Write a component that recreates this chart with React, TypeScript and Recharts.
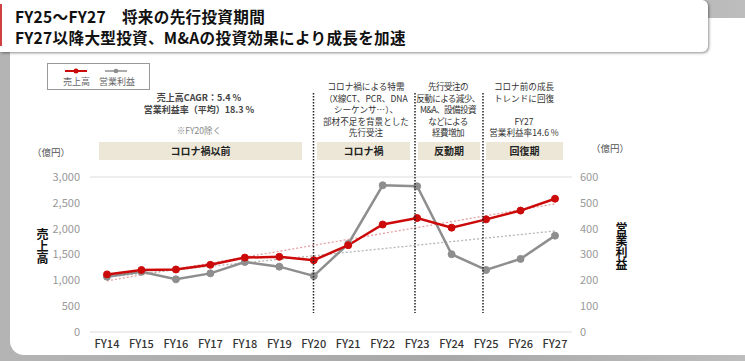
import React from 'react';
import { LineChart, Line, XAxis, YAxis, CartesianGrid, ReferenceLine } from 'recharts';

const categories = ['FY14', 'FY15', 'FY16', 'FY17', 'FY18', 'FY19', 'FY20', 'FY21', 'FY22', 'FY23', 'FY24', 'FY25', 'FY26', 'FY27'];
const sales = [1115, 1200, 1210, 1300, 1440, 1455, 1390, 1680, 2080, 2205, 2020, 2180, 2350, 2580];
const operatingProfit = [214, 233, 204, 227, 271, 253, 217, 341, 568, 564, 301, 240, 283, 373];
const salesTrend = [990, 2480];
const profitTrend = [213, 391];
const leftTicks = [0, 500, 1000, 1500, 2000, 2500, 3000];
const rightTicks = [0, 100, 200, 300, 400, 500, 600];

const data = categories.map((fy, i) => ({ fy, sales: sales[i], op: operatingProfit[i] }));

const FONT = '"Noto Sans CJK JP", "Noto Sans", sans-serif';

const RED = '#cc0a0a';
const GRAY = '#8e8e8e';

const abs = (x: number, y: number, extra: React.CSSProperties = {}): React.CSSProperties => ({
  position: 'absolute', left: x, top: y, ...extra,
});

const centerText = (x: number, y: number, lines: string[], extra: React.CSSProperties = {}) => (
  <div style={abs(x, y, { transform: 'translateX(-50%)', textAlign: 'center', whiteSpace: 'nowrap', fontSize: 8.6, lineHeight: '11.6px', color: '#333', ...extra })}>
    {lines.map((l, i) => <div key={i}>{l === '' ? '\u00a0' : l}</div>)}
  </div>
);

export default function App() {
  return (
    <div style={{ position: 'absolute', left: 0, top: 0, width: 745, height: 361, overflow: 'hidden', fontFamily: FONT, background: 'linear-gradient(90deg, #b4b4b4, #a8a8a8 60%, #bdbdbd)' }}>
      {/* main white panel */}
      <div style={abs(10, 18, { width: 780, height: 337, background: '#fff', borderRadius: 14 })} />
      {/* title box */}
      <div style={abs(0, 0, { width: 708, height: 52, background: '#fff', borderRadius: '0 6px 6px 0', boxShadow: '1px 1px 3px rgba(0,0,0,0.45)' })} />
      <div style={abs(0, 4, { width: 2, height: 42, background: '#d04040' })} />
      <div style={abs(15, 6, { fontSize: 15.6, fontWeight: 700, color: '#111', lineHeight: '21px', letterSpacing: 0.3, whiteSpace: 'nowrap' })}>
        <div>FY25～FY27　将来の先行投資期間</div>
        <div>FY27以降大型投資、M&amp;Aの投資効果により成長を加速</div>
      </div>

      {/* chart */}
      <div style={abs(0, 0)}>
        <LineChart width={745} height={361} data={data} margin={{ top: 177, right: 123, bottom: 0, left: 40 }}>
          <CartesianGrid vertical={false} stroke="#e8e8e8" strokeWidth={1.5} />
          <XAxis dataKey="fy" interval={0} axisLine={false} tickLine={false} height={29} padding={{ left: 17, right: 17 }}
            tick={{ fill: '#333', fontSize: 11, fontWeight: 500, fontFamily: FONT }} />
          <YAxis yAxisId="left" domain={[0, 3000]} ticks={leftTicks} width={50} axisLine={false} tickLine={false} tickMargin={4}
            tickFormatter={(v: number) => v.toLocaleString('en-US')}
            tick={{ fill: '#999', fontSize: 11, fontFamily: FONT }} />
          <YAxis yAxisId="right" orientation="right" domain={[0, 600]} ticks={rightTicks} width={50} axisLine={false} tickLine={false}
            tick={{ fill: '#999', fontSize: 11, fontFamily: FONT }} />
          <ReferenceLine yAxisId="left" segment={[{ x: categories[0], y: salesTrend[0] }, { x: categories[categories.length - 1], y: salesTrend[1] }]}
            stroke="#e29a9a" strokeWidth={1.2} strokeDasharray="2 2" ifOverflow="visible" />
          <ReferenceLine yAxisId="right" segment={[{ x: categories[0], y: profitTrend[0] }, { x: categories[categories.length - 1], y: profitTrend[1] }]}
            stroke="#b5b5b5" strokeWidth={1.3} strokeDasharray="2 2" ifOverflow="visible" />
          <Line yAxisId="right" dataKey="op" stroke={GRAY} strokeWidth={2.5} isAnimationActive={false}
            dot={{ r: 3.5, fill: GRAY, stroke: GRAY, strokeWidth: 1 }} />
          <Line yAxisId="left" dataKey="sales" stroke={RED} strokeWidth={2.5} isAnimationActive={false}
            dot={{ r: 3.5, fill: RED, stroke: RED, strokeWidth: 1 }} />
        </LineChart>
      </div>

      {/* axis titles */}
      <div style={abs(36, 228, { writingMode: 'vertical-rl', fontSize: 12, fontWeight: 700, color: '#111', lineHeight: '13px' })}>売上高</div>
      <div style={abs(615, 222, { writingMode: 'vertical-rl', fontSize: 12, fontWeight: 700, color: '#111', lineHeight: '13px' })}>営業利益</div>
      <div style={abs(32, 145, { fontSize: 9.5, color: '#555' })}>（億円）</div>
      <div style={abs(591, 141, { fontSize: 9.5, color: '#555' })}>（億円）</div>

      {/* legend */}
      <div style={abs(47, 63, { width: 103, height: 27, border: '1px solid #999', boxSizing: 'border-box', background: '#fff' })}>
        <svg width={103} height={10} style={{ position: 'absolute', left: 0, top: 2 }}>
          <line x1={17} x2={39} y1={5} y2={5} stroke={RED} strokeWidth={2} />
          <circle cx={28} cy={5} r={2.5} fill={RED} />
          <line x1={57} x2={79} y1={5} y2={5} stroke={GRAY} strokeWidth={1.5} />
          <circle cx={68} cy={5} r={2.3} fill={GRAY} />
        </svg>
        <div style={abs(15, 12, { fontSize: 9, color: '#666', whiteSpace: 'nowrap', lineHeight: '12px' })}>売上高</div>
        <div style={abs(51, 12, { fontSize: 9, color: '#666', whiteSpace: 'nowrap', lineHeight: '12px' })}>営業利益</div>
      </div>

      {/* annotations */}
      {centerText(199, 92, ['売上高CAGR：5.4 %', '営業利益率（平均）18.3 %'], { fontWeight: 700, color: '#444', fontSize: 9 })}
      {centerText(199, 125, ['※FY20除く'], { color: '#888' })}
      {centerText(366, 81, ['コロナ禍による特需', '（X線CT、PCR、DNA', 'シーケンサ…）、', '部材不足を背景とした', '先行受注'])}
      {centerText(448, 81, ['先行受注の', '反動による減少、', 'M&A、設備投資', 'などによる', '経費増加'], { letterSpacing: -0.6 })}
      {centerText(524, 81, ['コロナ前の成長', 'トレンドに回復', '', 'FY27', '営業利益率14.6 %'])}

      {/* phase boxes */}
      {[
        { x: 99, w: 203, label: 'コロナ禍以前' },
        { x: 317, w: 93, label: 'コロナ禍' },
        { x: 418, w: 62, label: '反動期' },
        { x: 486, w: 77, label: '回復期' },
      ].map((b) => (
        <div key={b.label} style={abs(b.x, 142, { width: b.w, height: 18, background: '#ede7d7', fontSize: 10, fontWeight: 700, color: '#222', textAlign: 'center', lineHeight: '18px' })}>{b.label}</div>
      ))}

      {/* period dividers */}
      <svg width={745} height={361} style={{ position: 'absolute', left: 0, top: 0, pointerEvents: 'none' }}>
        {[313.5, 415, 483].map((x) => (
          <line key={x} x1={x} x2={x} y1={93} y2={313} stroke="#222" strokeWidth={1.5} strokeDasharray="1.5 1.5" />
        ))}
      </svg>
    </div>
  );
}
